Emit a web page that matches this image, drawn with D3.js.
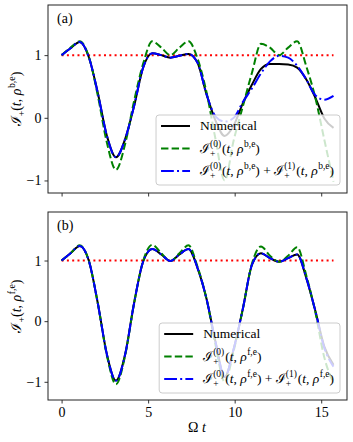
<!DOCTYPE html>
<html>
<head>
<meta charset="utf-8">
<script src="https://cdn.jsdelivr.net/npm/d3@7"></script>
<style>
  body { margin: 0; background: #fff; }
</style>
</head>
<body>
<svg id="chart" width="353" height="442"></svg>
<script>
// Time grid (Omega t), shared by every curve
const tValues = [0, 0.52, 1.05, 1.57, 2.09, 2.62, 3.14, 3.67, 4.19, 4.71, 5.24, 5.76, 6.28, 6.81, 7.33,
    7.85, 8.38, 8.90, 9.42, 9.95, 10.47, 11.00, 11.52, 12.04, 12.57, 13.09, 13.61, 14.14, 14.66, 15.18, 15.71];

// Panel (a): rho^{b,e}
const numericalA = [1.00, 1.11, 1.21, 0.97, 0.40, -0.29, -0.63, -0.34, 0.19, 0.80, 1.03, 1.00, 0.96, 0.99, 1.02,
    0.88, 0.37, -0.05, -0.29, -0.12, 0.23, 0.53, 0.78, 0.86, 0.86, 0.85, 0.80, 0.61, 0.32, -0.01, -0.16];
const zerothA = [1.00, 1.12, 1.22, 0.98, 0.36, -0.40, -0.83, -0.42, 0.27, 0.86, 1.22, 1.12, 1.00, 1.12, 1.22,
    0.95, 0.40, -0.35, -1.00, -0.35, 0.18, 0.72, 1.18, 1.12, 1.00, 1.12, 1.22, 0.82, 0.32, -0.35, -1.02];
const firstA = [1.00, 1.11, 1.21, 0.97, 0.40, -0.29, -0.63, -0.34, 0.19, 0.80, 1.03, 1.00, 0.96, 0.99, 1.02,
    0.88, 0.37, 0.02, -0.06, 0.00, 0.25, 0.47, 0.71, 0.90, 0.99, 0.96, 0.83, 0.61, 0.36, 0.29, 0.35];

// Panel (b): rho^{f,e}
const numericalB = [1.00, 1.12, 1.24, 1.00, 0.30, -0.55, -0.98, -0.55, 0.30, 0.98, 1.19, 1.10, 0.99, 1.10, 1.19,
    0.88, 0.36, -0.35, -0.92, -0.45, 0.20, 0.93, 1.12, 1.04, 0.98, 1.04, 1.10, 0.71, 0.17, -0.42, -0.72];
const zerothB = [1.00, 1.12, 1.25, 1.00, 0.30, -0.57, -1.04, -0.57, 0.30, 0.99, 1.26, 1.12, 0.99, 1.12, 1.25,
    0.90, 0.36, -0.40, -1.00, -0.48, 0.20, 0.95, 1.23, 1.08, 0.98, 1.08, 1.22, 0.75, 0.15, -0.60, -1.02];
const firstB = [1.00, 1.12, 1.24, 1.00, 0.30, -0.55, -0.98, -0.55, 0.30, 0.98, 1.19, 1.10, 0.99, 1.10, 1.19,
    0.88, 0.36, -0.35, -0.92, -0.45, 0.20, 0.93, 1.12, 1.04, 0.98, 1.04, 1.10, 0.71, 0.17, -0.44, -0.75];

const xTicks = [0, 5, 10, 15];
const yTicks = [-1, 0, 1];
const refLevel = 1;
const tEnd = 15.71;

const serif = '"Liberation Serif", "Times New Roman", "DejaVu Serif", serif';

const svg = d3.select("#chart").style("font-family", serif);
const left = 48, right = 347;

const x = d3.scaleLinear().domain([-0.785, 16.49]).range([left, right]);

const panels = [
    { tag: "(a)", top: 5, bottom: 193, yDomain: [-1.2, 1.8], state: "b,e",
      num: numericalA, zero: zerothA, first: firstA, xLabels: false, legendBottom: 185, ylabelY: 99 },
    { tag: "(b)", top: 212, bottom: 400, yDomain: [-1.3, 1.8], state: "f,e",
      num: numericalB, zero: zerothB, first: firstB, xLabels: true, legendBottom: 393, ylabelY: 306 }
];

function styled(sel, size, italic) {
    return sel.style("font-family", serif).style("font-size", size + "px")
        .style("font-style", italic ? "italic" : "normal").style("white-space", "pre").style("fill", "#000");
}

// Little helper for matplotlib-like math text, built piece by piece
function mathText(parent, parts, size) {
    const g = parent.append("g");
    let cx = 0;
    const small = size * 0.7;
    parts.forEach(p => {
        if (p.stack) {
            const a = styled(g.append("text"), small, false).attr("x", cx).attr("y", size * 0.3).text(p.sub);
            const b = styled(g.append("text"), small, false).attr("x", cx).attr("y", -size * 0.42).text(p.sup);
            cx += Math.max(a.node().getComputedTextLength(), b.node().getComputedTextLength()) + 1;
        } else {
            const t = styled(g.append("text"), p.sup || p.sub ? small : size, p.it)
                .attr("x", cx)
                .attr("y", p.sup ? -size * 0.42 : p.sub ? size * 0.3 : 0)
                .text(p.t);
            cx += t.node().getComputedTextLength() + (p.pad || 0);
        }
    });
    return { g, width: cx };
}

const stateParts = s => [{ t: "(" }, { t: "t", it: true }, { t: ", " }, { t: "ρ", it: true, pad: 0.5 }, { t: s, sup: true }, { t: ")" }];
const zeroParts = s => [{ t: "ℐ" }, { stack: true, sub: "+", sup: "(0)" }].concat(stateParts(s));
const firstParts = s => [{ t: "ℐ" }, { stack: true, sub: "+", sup: "(1)" }].concat(stateParts(s));

panels.forEach((p, pi) => {
    const y = d3.scaleLinear().domain(p.yDomain).range([p.bottom, p.top]);
    const g = svg.append("g");

    const clipId = "clip" + pi;
    svg.append("clipPath").attr("id", clipId).append("rect")
        .attr("x", left).attr("y", p.top).attr("width", right - left).attr("height", p.bottom - p.top);

    const plot = g.append("g").attr("clip-path", `url(#${clipId})`);

    const line = d3.line()
        .x((d, i) => x(tValues[i]))
        .y(d => y(d))
        .curve(d3.curveMonotoneX);

    // reference level
    plot.append("line")
        .attr("x1", x(0)).attr("x2", x(tEnd))
        .attr("y1", y(refLevel)).attr("y2", y(refLevel))
        .style("stroke", "red").style("stroke-width", 2).style("stroke-dasharray", "2,3.3");

    plot.append("path").datum(p.num).attr("d", line)
        .style("fill", "none").style("stroke", "black").style("stroke-width", 2);
    plot.append("path").datum(p.zero).attr("d", line)
        .style("fill", "none").style("stroke", "green").style("stroke-width", 2).style("stroke-dasharray", "7.4,3.2");
    plot.append("path").datum(p.first).attr("d", line)
        .style("fill", "none").style("stroke", "blue").style("stroke-width", 2).style("stroke-dasharray", "12.8,3.2,2,3.2");

    // axes
    const yAxis = g.append("g").attr("transform", `translate(${left},0)`)
        .call(d3.axisLeft(y).tickValues(yTicks).tickSize(3.5).tickPadding(3)
            .tickFormat(d => d < 0 ? "\u2212" + Math.abs(d) : d));
    const xAxis = g.append("g").attr("transform", `translate(0,${p.bottom})`)
        .call(d3.axisBottom(x).tickValues(xTicks).tickSize(3.5).tickPadding(4)
            .tickFormat(d => p.xLabels ? d : ""));
    [yAxis, xAxis].forEach(a => {
        a.attr("font-family", null).attr("font-size", null);
        a.select(".domain").remove();
        styled(a.selectAll("text"), 14, false);
        a.selectAll("line").style("stroke", "#000").style("stroke-width", 0.8);
    });

    g.append("rect")
        .attr("x", left).attr("y", p.top).attr("width", right - left).attr("height", p.bottom - p.top)
        .style("fill", "none").style("stroke", "#222").style("stroke-width", 1);

    styled(g.append("text"), 14, false).attr("x", 57).attr("y", p.top + 18).text(p.tag);

    // y label, rotated
    const yl = mathText(g, [{ t: "ℐ" }, { t: "+", sub: true }].concat(stateParts(p.state)), 14);
    yl.g.attr("transform", `translate(21,${p.ylabelY}) rotate(-90) translate(${-yl.width / 2},0)`);

    // legend
    const fs = 13.5;
    const rowGap = 22.5;
    const legend = g.append("g");
    const box = legend.append("rect");
    const rows = [
        { style: { stroke: "black" }, parts: [{ t: "Numerical" }] },
        { style: { stroke: "green", dash: "7.4,3.2" }, parts: zeroParts(p.state) },
        { style: { stroke: "blue", dash: "12.8,3.2,2,3.2" },
          parts: zeroParts(p.state).concat([{ t: " + " }]).concat(firstParts(p.state)) }
    ];
    let maxW = 0;
    const items = rows.map((r, i) => {
        const it = legend.append("g");
        it.append("line").attr("x1", 0).attr("x2", 29).attr("y1", -4).attr("y2", -4)
            .style("stroke", r.style.stroke).style("stroke-width", 2)
            .style("stroke-dasharray", r.style.dash || null);
        const m = mathText(it, r.parts, fs);
        m.g.attr("transform", "translate(39,0)");
        maxW = Math.max(maxW, 39 + m.width);
        return it;
    });
    const boxW = maxW + 11, boxH = 70;
    const bx = 340 - boxW, by = p.legendBottom - boxH;
    box.attr("x", bx).attr("y", by).attr("width", boxW).attr("height", boxH).attr("rx", 3)
        .style("fill", "white").style("fill-opacity", 0.8).style("stroke", "#ccc").style("stroke-width", 1);
    items.forEach((it, i) => it.attr("transform", `translate(${bx + 5},${by + 15 + i * rowGap})`));
});

const xl = mathText(svg, [{ t: "Ω " }, { t: "t", it: true }], 14);
xl.g.attr("transform", `translate(${197 - xl.width / 2},432)`);
</script>
</body>
</html>
